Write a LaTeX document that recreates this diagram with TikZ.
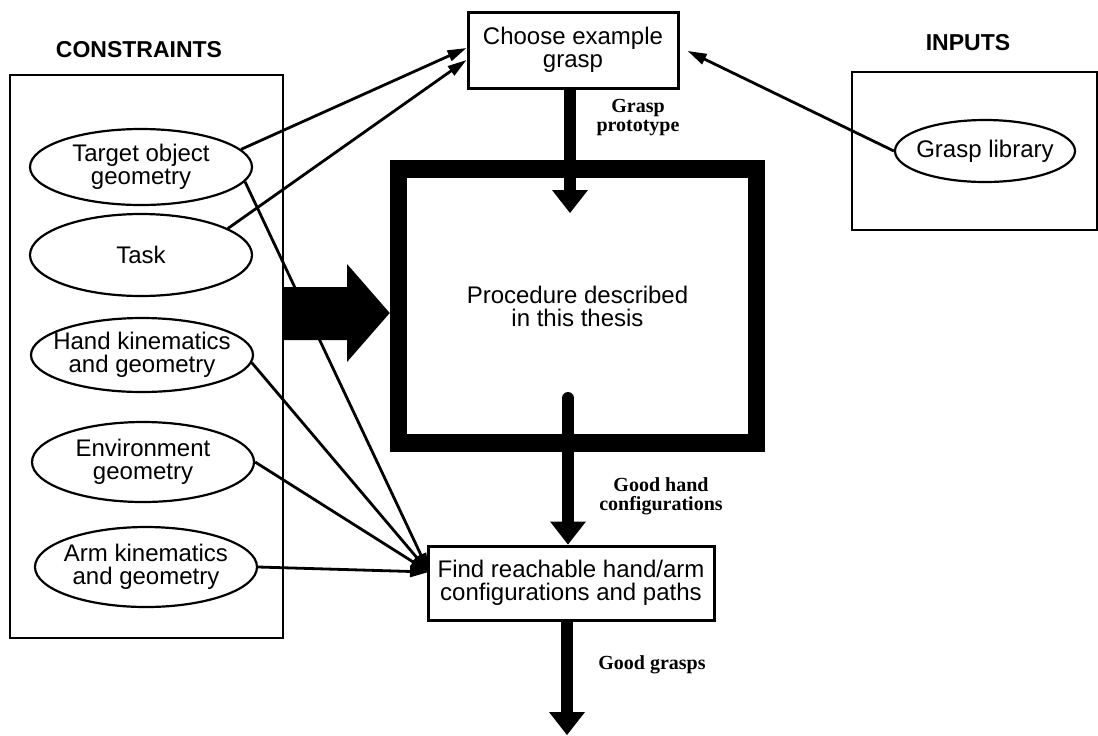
\documentclass[tikz,border=0pt]{standalone}
\usepackage{fontspec}
\setmainfont{Liberation Sans}
\newfontfamily\labelfont{Liberation Serif}
\usetikzlibrary{shapes.geometric,arrows.meta,calc}
\tikzset{
    frame/.style = {draw, rectangle, line width=0.75pt, inner sep=0pt},
    stage/.style = {draw, rectangle, line width=1.5pt, inner sep=0pt, align=center},
    factor/.style = {draw, ellipse, line width=1.1pt, minimum width=111pt,
        inner xsep=-7pt, inner ysep=0pt, align=center},
    heading/.style = {font=\bfseries\fontsize{11.5}{12}\selectfont},
    flowlabel/.style = {font=\labelfont\bfseries\fontsize{10}{9.5}\selectfont, align=center},
    feed/.style = {-{Triangle[length=9.5pt, width=5.5pt]}, line width=1.4pt},
    flow/.style = {-{Triangle[length=11.5pt, width=18pt, line width=0pt]}, line width=6pt},
}
\begin{document}
\begin{tikzpicture}[x=0.5pt, y=-0.5pt, font=\fontsize{12}{11.5}\selectfont]
	\useasboundingbox (0,0) rectangle (1098,735);

	% frames and headings
	\node (consTitle) [heading] at (139,50) {CONSTRAINTS};
	\node (consBox) [frame, minimum width=136.5pt, minimum height=281.5pt] at (146.5,356.5) {};
	\node (inTitle) [heading] at (968,43) {INPUTS};
	\node (inBox) [frame, minimum width=122.5pt, minimum height=79pt] at (974.5,151) {};

	% constraints
	\node (targetGeom) [factor, minimum height=38pt] at (141,167) {Target object\\geometry};
	\node (task) [factor, minimum height=41pt] at (141,255) {Task};
	\node (handKin) [factor, minimum height=37pt] at (142,355) {Hand kinematics\\and geometry};
	\node (envGeom) [factor, minimum height=40pt] at (143,462) {Environment\\geometry};
	\node (armKin) [factor, minimum height=40pt] at (146,567) {Arm kinematics\\and geometry};

	% inputs
	\node (graspLib) [factor, minimum width=90pt, minimum height=31pt] at (985,151) {Grasp library};

	% diagram blocks
	\node (choose) [stage, minimum width=105pt, minimum height=38pt] at (573,50) {Choose example\\grasp};
	\node (proc) [stage, line width=8.75pt, minimum width=179pt, minimum height=137pt] at (577.5,306) {Procedure described\\in this thesis};
	\node (find) [stage, minimum width=143pt, minimum height=37pt] at (571,583) {Find reachable hand/arm\\configurations and paths};

	\node (protoLabel) [flowlabel] at (638,118) {Grasp\\prototype};
	\node (handLabel) [flowlabel] at (661,496) {Good hand\\configurations};
	\node (graspsLabel) [flowlabel] at (652,665) {Good grasps};

	\coordinate (protoTip) at (570,213);
	\coordinate (handStart) at (568,398);
	\coordinate (findTip) at (429,572);
	\coordinate (outEnd) at (567,735);

	%% main flow
	\draw[flow] (choose.south -| protoTip) -- (protoTip);
	\draw[flow, line cap=round] (handStart) -- (handStart |- find.north);
	\draw[flow] (find.south -| outEnd) -- (outEnd);
	% constraints into the procedure
	\fill (consBox.east |- 0,287) -- (347,287) -- (347,264) -- (proc.west |- 0,313)
		-- (347,362) -- (347,340) -- (consBox.east |- 0,340) -- cycle;

	% all other edges
	\draw[feed] (targetGeom.10) -- ([yshift=1pt]choose.west);
	\draw[feed] (task.17) -- ([yshift=-5pt]choose.west);
	\draw[feed, shorten >=4.5pt] (graspLib.west) -- ([yshift=1.5pt]choose.east);
	\draw[feed] (targetGeom.-8) -- (findTip);
	\draw[feed] (handKin.-4) -- (findTip);
	\draw[feed] (envGeom.east) -- (findTip);
	\draw[feed] (armKin.east) -- (findTip);

\end{tikzpicture}
\end{document}
